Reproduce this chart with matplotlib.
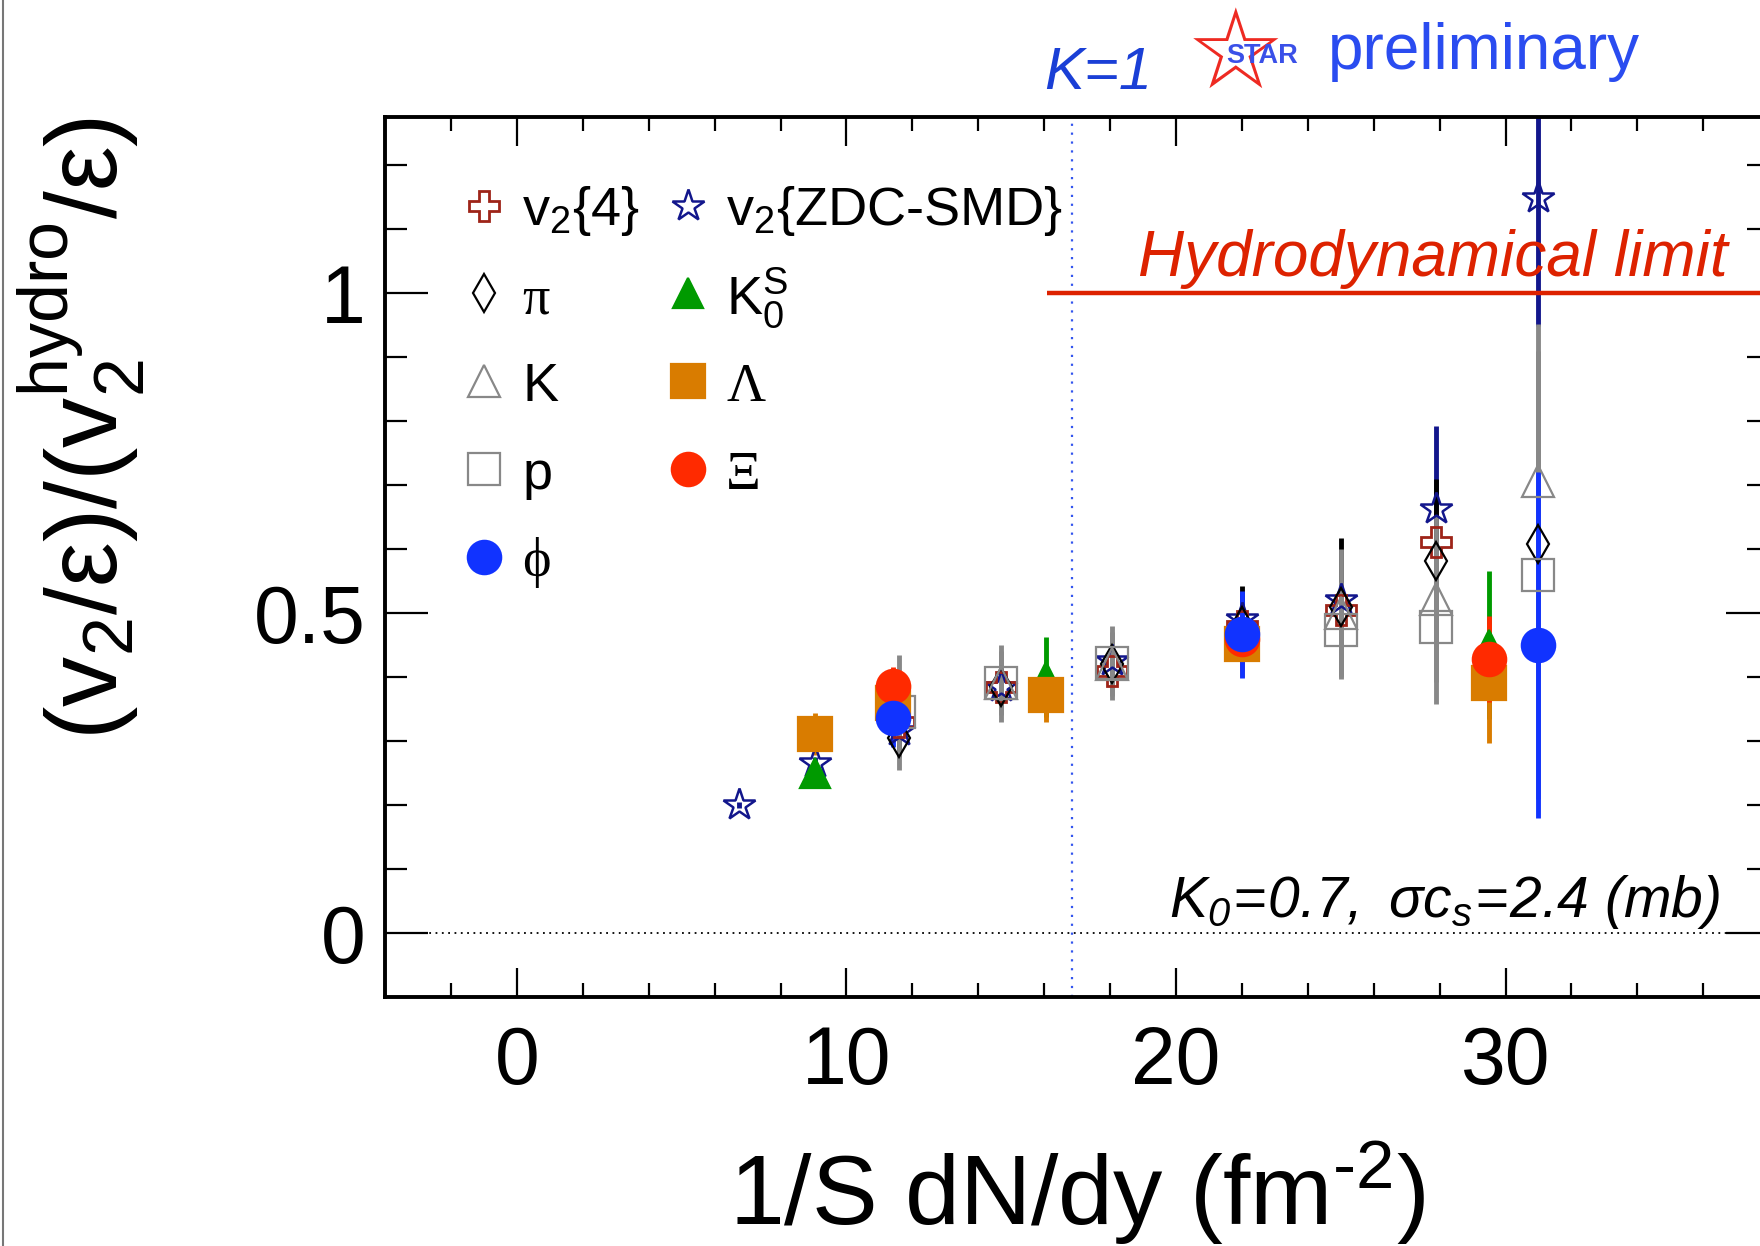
import numpy as np
import matplotlib.pyplot as plt
from matplotlib.lines import Line2D
from matplotlib.legend_handler import HandlerLine2D
from matplotlib.ticker import MultipleLocator, FuncFormatter

plt.rcParams['font.family'] = ['Liberation Sans', 'DejaVu Sans']
plt.rcParams['mathtext.fontset'] = 'custom'
plt.rcParams['mathtext.rm'] = 'Liberation Sans'
plt.rcParams['mathtext.it'] = 'Liberation Sans:italic'
plt.rcParams['mathtext.bf'] = 'Liberation Sans:bold'
plt.rcParams['mathtext.sf'] = 'Liberation Sans:italic'

# data: x = 1/S dN/dy, y = (v2/eps)/(v2hydro/eps)
p_x = [11.6, 14.7, 18.05, 25.0, 27.9, 31.0]
p_y = [0.345, 0.39, 0.422, 0.473, 0.478, 0.56]
p_err = [0.09, 0.06, 0.058, 0.076, 0.12, 0.35]

k_x = [14.7, 18.05, 25.0, 27.9, 31.0]
k_y = [0.39, 0.42, 0.50, 0.522, 0.706]
k_err = [0.05, 0.05, 0.1, 0.13, 0.245]

pi_x = [11.6, 14.7, 18.05, 22.0, 25.0, 27.9, 31.0]
pi_y = [0.305, 0.385, 0.42, 0.48, 0.51, 0.582, 0.608]
pi_err = [0.03, 0.03, 0.03, 0.062, 0.108, 0.127, 0.1]

v24_x = [11.6, 14.7, 18.05, 22.0, 25.0, 27.9]
v24_y = [0.33, 0.385, 0.41, 0.48, 0.505, 0.611]
v24_err = [0.02, 0.02, 0.02, 0.03, 0.04, 0.05]

zdc_x = [6.75, 9.05, 11.6, 14.7, 18.05, 22.0, 25.0, 27.9, 31.0]
zdc_y = [0.20, 0.265, 0.315, 0.385, 0.425, 0.49, 0.52, 0.662, 1.148]
zdc_err = [0.005, 0.01, 0.015, 0.02, 0.02, 0.03, 0.04, 0.13, 0.2]

k0s_x = [9.05, 16.05, 29.5]
k0s_y = [0.25, 0.40, 0.45]
k0s_err = [0.01, 0.062, 0.116]

lam_x = [9.05, 11.4, 16.05, 22.0, 29.5]
lam_y = [0.311, 0.36, 0.372, 0.452, 0.39]
lam_err = [0.033, 0.02, 0.042, 0.052, 0.093]

xi_x = [11.4, 22.0, 29.5]
xi_y = [0.386, 0.46, 0.428]
xi_err = [0.03, 0.05, 0.067]

phi_x = [11.4, 22.0, 31.0]
phi_y = [0.336, 0.467, 0.45]
phi_err = [0.045, 0.068, 0.27]

hydro_limit = 1.0
hydro_start = 16.1
k1_x = 16.85

fig = plt.figure(figsize=(17.6, 12.46), dpi=100)
ax = fig.add_axes([0.2188, 0.1998, 0.7864, 0.7063])
ax.set_xlim(-4, 38)
ax.set_ylim(-0.1, 1.275)

def series(x, y, err, marker, ms, color, filled, mew=1.6):
    c = ax.errorbar(x, y, yerr=err, fmt=marker, ms=ms, color=color,
                    mfc=color if filled else 'none', mec=color, mew=mew,
                    elinewidth=3.5, capsize=0)
    return c.lines[0]

gray = '#888888'
h_zdc = series(zdc_x, zdc_y, zdc_err, '*', 24, '#12168c', False, 1.8)
h_v24 = series(v24_x, v24_y, v24_err, 'P', 22, '#9e2418', False, 2.0)
h_pi = series(pi_x, pi_y, pi_err, 'd', 19, 'black', False)
h_k = series(k_x, k_y, k_err, '^', 23, gray, False)
h_p = series(p_x, p_y, p_err, 's', 23, gray, False)
h_k0s = series(k0s_x, k0s_y, k0s_err, '^', 21, '#009a00', True)
h_lam = series(lam_x, lam_y, lam_err, 's', 24, '#d97c00', True)
h_xi = series(xi_x, xi_y, xi_err, 'o', 24, '#ff2a00', True)
h_phi = series(phi_x, phi_y, phi_err, 'o', 24, '#1133ff', True)

# reference lines
ax.axhline(0, color='black', lw=1.3, ls=(0, (1, 2.5)))
ax.axvline(k1_x, color='#3355ee', lw=1.6, ls=(0, (1, 3)))
ax.hlines(hydro_limit, hydro_start, 38, color='#dd2200', lw=3.2)
ax.text(36.75, 1.027, 'Hydrodynamical limit', color='#dd2200', style='italic',
        fontsize=46, ha='right', va='baseline')
ax.text(36.5, 0.025,
        r'$\mathsf{K_{0}\!=\!0.7,\ \sigma c_{s}\!=\!2.4\ (mb)}$',
        fontsize=41, ha='right', va='baseline')

# header texts
ax.text(16.0, 1.319, 'K=1', color='#1a3fd6', style='italic', fontsize=43, va='baseline')
ax.text(21.8, 1.368, '☆', color='#ee2a22', fontsize=80, family='DejaVu Sans',
        ha='center', va='center')
ax.text(22.6, 1.359, 'STAR', color='#3a50e8', fontsize=19.5, weight='bold',
        ha='center', va='baseline')
ax.text(24.6, 1.35, 'preliminary', color='#2a4cf0', fontsize=46, va='baseline')

# axes styling
for s in ax.spines.values():
    s.set_linewidth(2.8)
ax.xaxis.set_major_locator(MultipleLocator(10))
ax.xaxis.set_minor_locator(MultipleLocator(2))
ax.yaxis.set_major_locator(MultipleLocator(0.5))
ax.yaxis.set_minor_locator(MultipleLocator(0.1))
ax.yaxis.set_major_formatter(FuncFormatter(lambda v, _: f'{v:g}'))
ax.tick_params(axis='x', which='major', direction='in', length=21, width=1.6,
               top=True, labelsize=58, pad=20)
ax.tick_params(axis='x', which='minor', direction='in', length=10, width=1.6, top=True)
ax.tick_params(axis='y', which='major', direction='in', length=31, width=1.6,
               right=True, labelsize=58, pad=14)
ax.tick_params(axis='y', which='minor', direction='in', length=16, width=1.6, right=True)

ax.set_xlabel('1/S dN/dy (fm$^{\u20102}$)', fontsize=71)
ax.xaxis.set_label_coords(0.5, -0.161)
ax.set_ylabel('(v$_2$/ε)/(v$_2^{\\rm hydro}$/ε)', fontsize=72, loc='top')
ax.yaxis.set_label_coords(-0.172, 1.0)


class LowMarker(HandlerLine2D):
    # tall handle boxes keep the two legend columns on the same rows;
    # pull the marker back down to the middle of the text
    def create_artists(self, legend, orig_handle, xdescent, ydescent,
                       width, height, fontsize, trans):
        arts = super().create_artists(legend, orig_handle, xdescent, ydescent,
                                      width, height, fontsize, trans)
        for a in arts:
            a.set_ydata(np.asarray(a.get_ydata()) - 0.12 * fontsize)
        return arts


leg = ax.legend([h_v24, h_pi, h_k, h_p, h_phi, h_zdc, h_k0s, h_lam, h_xi],
                ['v$_2${4}', 'π', 'K', 'p', 'ϕ',
                 'v$_2${ZDC-SMD}', 'K$^{\\rm S}_{0}$', 'Λ', 'Ξ'],
                ncol=2, loc='upper left', bbox_to_anchor=(0.052, 0.9365),
                frameon=False, fontsize=39, borderpad=0, handlelength=1.0,
                handleheight=1.6, handletextpad=0.2, columnspacing=0.4,
                labelspacing=0.335, borderaxespad=0,
                handler_map={Line2D: LowMarker()})
for t in leg.get_texts():
    if t.get_text() in ('π', 'Λ', 'Ξ', 'ϕ'):
        t.set_fontfamily(['Liberation Serif', 'DejaVu Serif'])

fig.add_artist(Line2D([0.0015, 0.0015], [0, 1], transform=fig.transFigure,
                      color='#777777', lw=1.5))

plt.savefig('out.png', dpi=100)
